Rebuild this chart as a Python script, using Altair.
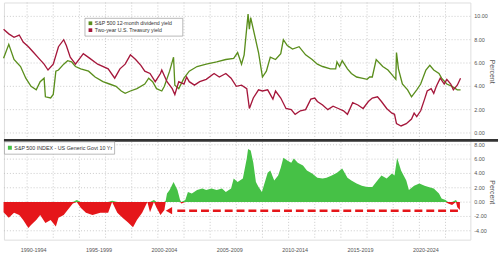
import altair as alt
import pandas as pd

# ---------------- data ----------------
div_years = [1990.2, 1990.6, 1991.0, 1991.5, 1991.9, 1992.3, 1992.7, 1993.0, 1993.3, 1993.4,
             1993.8, 1994.0, 1994.2, 1994.4, 1994.8, 1995.1, 1995.4, 1995.7, 1996.1, 1996.7,
             1997.2, 1997.8, 1998.3, 1998.8, 1999.2, 1999.5, 1999.9, 2000.4, 2001.0, 2001.3,
             2001.6, 2001.9, 2002.3, 2002.5, 2002.9, 2003.2, 2003.3, 2003.6, 2004.0, 2004.4,
             2005.0, 2005.7, 2006.5, 2007.2, 2007.8, 2008.1, 2008.4, 2008.6, 2008.9, 2009.0,
             2009.1, 2009.4, 2009.7, 2009.9, 2010.0, 2010.3, 2010.6, 2011.0, 2011.4, 2011.6,
             2011.9, 2012.3, 2012.8, 2013.3, 2013.8, 2014.2, 2014.6, 2015.2, 2015.6, 2015.7,
             2015.9, 2016.1, 2016.5, 2016.8, 2017.2, 2017.6, 2018.0, 2018.2, 2018.4, 2018.7,
             2019.2, 2019.6, 2019.9, 2020.2, 2020.25, 2020.4, 2020.7, 2021.1, 2021.4, 2021.8,
             2022.1, 2022.5, 2022.8, 2023.1, 2023.5, 2023.7, 2024.1, 2024.5, 2024.9, 2025.15]
div_yield = [6.4, 7.6, 6.3, 5.7, 4.7, 4.0, 3.7, 4.4, 4.7, 3.1,
             3.0, 3.3, 5.3, 5.4, 5.9, 6.2, 6.1, 5.7, 5.5, 5.3,
             4.8, 4.4, 4.2, 4.0, 3.6, 3.4, 3.6, 3.8, 4.2, 4.7,
             4.4, 3.8, 3.6, 4.0, 5.3, 6.5, 4.1, 3.8, 4.7, 5.3,
             5.7, 5.9, 6.1, 6.3, 6.4, 6.9, 5.9, 6.7, 10.2, 8.9,
             9.9, 8.4, 6.9, 5.5, 4.8, 5.3, 6.5, 6.3, 6.8, 8.0,
             7.5, 7.2, 7.4, 6.7, 6.3, 5.9, 5.7, 5.5, 5.5, 6.1,
             5.7, 6.2, 5.5, 5.1, 4.8, 4.7, 4.6, 4.8, 4.8, 6.3,
             5.7, 5.4, 5.0, 4.6, 6.9, 5.5, 4.2, 3.7, 3.1, 3.7,
             4.2, 5.4, 5.8, 5.4, 5.1, 4.7, 4.2, 4.0, 3.7, 3.7]

t2_years = [1990.2, 1990.6, 1991.0, 1991.4, 1991.7, 1992.1, 1992.5, 1992.9, 1993.3, 1993.6,
            1994.0, 1994.4, 1994.8, 1995.0, 1995.3, 1995.7, 1996.1, 1996.3, 1996.8, 1997.4,
            1998.2, 1998.7, 1999.1, 1999.5, 1999.9, 2000.3, 2000.7, 2001.0, 2001.4, 2001.8,
            2002.2, 2002.3, 2002.7, 2003.1, 2003.3, 2003.6, 2004.0, 2004.2, 2004.4, 2004.8,
            2005.2, 2005.7, 2006.3, 2006.7, 2007.2, 2007.6, 2008.0, 2008.4, 2008.8, 2009.0,
            2009.3, 2009.7, 2010.0, 2010.4, 2010.8, 2011.0, 2011.4, 2011.8, 2012.2, 2012.5,
            2012.9, 2013.3, 2013.7, 2014.0, 2014.2, 2014.6, 2015.0, 2015.4, 2015.8, 2016.2,
            2016.5, 2016.9, 2017.3, 2017.7, 2018.1, 2018.4, 2018.8, 2019.1, 2019.5, 2019.9,
            2020.1, 2020.25, 2020.6, 2021.0, 2021.4, 2021.6, 2021.8, 2022.1, 2022.4, 2022.6,
            2022.9, 2023.1, 2023.3, 2023.6, 2023.9, 2024.1, 2024.4, 2024.6, 2024.9, 2025.15]
t2_yield = [8.9, 8.5, 8.2, 8.4, 7.8, 7.4, 6.9, 6.4, 5.9, 5.4,
            5.9, 7.4, 8.0, 7.5, 6.5, 5.9, 6.5, 6.8, 6.4, 5.9,
            5.5, 4.7, 5.5, 5.9, 6.7, 6.3, 5.8, 5.3, 5.1, 4.4,
            5.1, 5.4, 4.4, 3.8, 3.3, 4.4, 4.2, 4.8, 4.4, 4.1,
            4.4, 4.6, 5.1, 4.8, 5.1, 4.7, 4.0, 4.1, 3.8, 2.1,
            3.0, 3.7, 3.6, 3.7, 2.9, 3.6, 3.0, 2.1, 2.0, 1.6,
            1.9, 2.0, 2.9, 3.0, 2.7, 2.4, 2.0, 2.3, 2.1, 1.9,
            1.6, 2.6, 2.4, 2.1, 2.7, 3.0, 3.1, 2.7, 2.1, 1.7,
            1.6, 0.8, 0.6, 0.8, 1.2, 1.7, 1.4, 1.9, 2.9, 3.6,
            3.8, 3.4, 4.0, 4.7, 4.2, 4.6, 4.2, 3.7, 4.1, 4.7]

spread_years = [1990.2, 1990.6, 1991.0, 1991.4, 1991.7, 1992.1, 1992.3, 1992.7, 1993.0, 1993.4,
                1993.8, 1994.2, 1994.4, 1994.8, 1995.1, 1995.5, 1995.8, 1996.1, 1996.5, 1997.0,
                1997.6, 1998.2, 1998.5, 1998.9, 1999.3, 1999.7, 2000.1, 2000.4, 2000.8, 2001.2,
                2001.4, 2001.7, 2001.9, 2002.2, 2002.5, 2002.6, 2002.7, 2002.9, 2003.2, 2003.5,
                2003.7, 2003.8, 2004.1, 2004.3, 2004.6, 2005.0, 2005.4, 2005.7, 2006.1, 2006.5,
                2006.9, 2007.2, 2007.6, 2007.8, 2008.1, 2008.5, 2008.8, 2008.9, 2009.1, 2009.3,
                2009.5, 2009.7, 2009.96, 2010.1, 2010.4, 2010.6, 2010.9, 2011.2, 2011.4, 2011.6,
                2011.9, 2012.2, 2012.4, 2012.7, 2013.1, 2013.4, 2013.8, 2014.2, 2014.6, 2014.9,
                2015.3, 2015.7, 2016.1, 2016.5, 2016.8, 2017.2, 2017.6, 2018.0, 2018.4, 2018.7,
                2019.1, 2019.5, 2019.9, 2020.1, 2020.3, 2020.6, 2021.0, 2021.2, 2021.6, 2022.0,
                2022.4, 2022.7, 2023.1, 2023.5, 2023.7, 2024.0, 2024.2, 2024.5, 2024.8, 2024.9,
                2025.1]
spread = [-1.4, -2.2, -1.5, -1.8, -2.5, -3.6, -3.2, -2.5, -1.8, -2.9,
          -2.5, -3.4, -2.2, -1.8, -1.1, -0.2, 0.3, -0.8, -1.5, -1.8,
          -1.5, -1.5, 0.2, -1.5, -2.2, -2.8, -3.5, -2.5, -1.5, 0.0,
          -1.4, 0.3, -0.8, -1.8, -1.1, 0.2, 1.2, 1.7, 2.8, 1.7,
          0.3, -0.2, 0.3, 1.4, 1.2, 1.7, 1.9, 1.7, 1.9, 1.7,
          1.9, 1.4, 1.9, 3.3, 2.8, 3.3, 6.1, 7.4, 7.2, 5.5,
          2.8, 2.1, 1.4, 2.3, 4.1, 4.4, 3.0, 3.7, 4.8, 6.2,
          5.8, 5.5, 6.1, 5.5, 5.1, 4.4, 4.0, 3.4, 3.3, 3.4,
          3.7, 4.1, 4.7, 3.4, 3.0, 2.6, 2.3, 2.1, 2.1, 2.8,
          3.7, 3.3, 4.0, 3.7, 6.2, 4.4, 3.0, 1.7, 2.3, 2.6,
          2.3, 2.1, 1.9, 1.2, 0.5, 0.3, -0.2, -0.4, 0.3, -0.7,
          -1.1]

div_label = "S&P 500 12-month dividend yield"
t2_label = "Two-year U.S. Treasury yield"
spread_label = "S&P 500 INDEX - US Generic Govt 10 Yr"
axis_title = "Percent"

top_ticks = [0, 2, 4, 6, 8, 10]
bot_ticks = [-4, -2, 0, 2, 4, 6, 8]
grid_years = [1992, 1994, 1996, 1998, 2000, 2002, 2004, 2006, 2008, 2010, 2012, 2014,
              2016, 2018, 2020, 2022, 2024]
tick_years = [1995, 2000, 2005, 2010, 2015, 2020, 2025]
period_labels = ["1990-1994", "1995-1999", "2000-2004", "2005-2009", "2010-2014",
                 "2015-2019", "2020-2024"]
period_centers = [1992.5, 1997.5, 2002.5, 2007.5, 2012.5, 2017.5, 2022.5]

arrow_from = 2024.95
arrow_to = 2003.2
arrow_head = 2002.85
arrow_level = -1.2

# ---------------- styling ----------------
FONT = "Liberation Sans"
GREEN_LINE = "#5a8e1c"
RED_LINE = "#a5173b"
GREEN_AREA = "#46c146"
RED_AREA = "#e5161a"
GRID = "#bdbdbd"
TXT = "#555555"
W = 472
H = 240          # whole plot area (both panels)
SEP_Y = 139.5    # separator between the two panels

xs = alt.Scale(domain=[1990.23, 2025.9], nice=False, zero=False)
# top panel occupies the upper part of the shared plot area, bottom panel the lower part
ys_top = alt.Scale(domain=[-9.15, 11.19], nice=False, zero=False)
ys_bot = alt.Scale(domain=[-5.24, 27.86], nice=False, zero=False)

one = pd.DataFrame({"k": [0]})
X_NOAXIS = dict(scale=xs, axis=None)

# ---------------- shared vertical grid + bottom x axis ----------------
grid_df = pd.DataFrame({"year": grid_years})
vgrid = alt.Chart(grid_df).mark_rule(strokeDash=[1, 2], color=GRID, strokeWidth=0.8).encode(
    x=alt.X("year:Q", scale=xs,
            axis=alt.Axis(values=tick_years, labels=False, tickSize=14, tickColor="#9a9a9a",
                          tickWidth=0.8, domainColor="#9a9a9a", domainWidth=0.8,
                          grid=False, title=None)),
    y=alt.value(0), y2=alt.value(H))

# ---------------- top panel ----------------
top_tick_df = pd.DataFrame({"v": top_ticks, "lab": [f"{t:.2f}" for t in top_ticks]})
top_hgrid = alt.Chart(top_tick_df).mark_rule(strokeDash=[1, 2], color=GRID, strokeWidth=0.8).encode(
    y=alt.Y("v:Q", scale=ys_top, axis=None), x=alt.value(0), x2=alt.value(W))
top_labels = alt.Chart(top_tick_df).mark_text(fontSize=5.5, color=TXT, align="left",
                                              baseline="middle", font=FONT).encode(
    y=alt.Y("v:Q", scale=ys_top, axis=None), x=alt.value(W + 4), text="lab:N")

lines_df = pd.concat([
    pd.DataFrame({"year": div_years, "value": div_yield, "series": div_label}),
    pd.DataFrame({"year": t2_years, "value": t2_yield, "series": t2_label}),
])
top_lines = alt.Chart(lines_df).mark_line(strokeWidth=1.35).encode(
    x=alt.X("year:Q", **X_NOAXIS),
    y=alt.Y("value:Q", scale=ys_top, axis=None),
    color=alt.Color("series:N", scale=alt.Scale(domain=[div_label, t2_label],
                                                range=[GREEN_LINE, RED_LINE]), legend=None),
)

top_box = alt.Chart(one).mark_rect(fill="white", stroke="#9a9a9a", strokeWidth=0.7).encode(
    x=alt.value(82), x2=alt.value(181), y=alt.value(16), y2=alt.value(34))
top_sq1 = alt.Chart(one).mark_point(shape="square", filled=True, size=14, opacity=1,
                                    color=GREEN_LINE).encode(x=alt.value(87.5), y=alt.value(21))
top_sq2 = alt.Chart(one).mark_point(shape="square", filled=True, size=14, opacity=1,
                                    color=RED_LINE).encode(x=alt.value(87.5), y=alt.value(28))
top_t1 = alt.Chart(one).mark_text(text=div_label, fontSize=5.3, color="#333", align="left",
                                  baseline="middle", font=FONT).encode(
    x=alt.value(92), y=alt.value(21))
top_t2 = alt.Chart(one).mark_text(text=t2_label, fontSize=5.3, color="#333", align="left",
                                  baseline="middle", font=FONT).encode(
    x=alt.value(92), y=alt.value(28))
top_title = alt.Chart(one).mark_text(text=axis_title, fontSize=7, color=TXT, angle=90,
                                     align="center", baseline="middle", font=FONT).encode(
    x=alt.value(W + 22), y=alt.value(70))

# ---------------- bottom panel ----------------
bot_tick_df = pd.DataFrame({"v": bot_ticks, "lab": [f"{t:.2f}" for t in bot_ticks]})
bot_hgrid = alt.Chart(bot_tick_df).mark_rule(strokeDash=[1, 2], color=GRID, strokeWidth=0.8).encode(
    y=alt.Y("v:Q", scale=ys_bot, axis=None), x=alt.value(0), x2=alt.value(W))
bot_labels = alt.Chart(bot_tick_df).mark_text(fontSize=5.5, color=TXT, align="left",
                                              baseline="middle", font=FONT).encode(
    y=alt.Y("v:Q", scale=ys_bot, axis=None), x=alt.value(W + 4), text="lab:N")

spread_df = pd.DataFrame({"year": spread_years, "spread": spread})
pos_area = alt.Chart(spread_df).transform_calculate(
    pos="max(datum.spread, 0)").mark_area(color=GREEN_AREA, opacity=1).encode(
    x=alt.X("year:Q", **X_NOAXIS),
    y=alt.Y("pos:Q", scale=ys_bot, axis=None),
    y2=alt.datum(0),
)
neg_area = alt.Chart(spread_df).transform_calculate(
    neg="min(datum.spread, 0)").mark_area(color=RED_AREA, opacity=1).encode(
    x=alt.X("year:Q", **X_NOAXIS),
    y=alt.Y("neg:Q", scale=ys_bot, axis=None),
    y2=alt.datum(0),
)

arrow_df = pd.DataFrame({"year": [arrow_from], "year2": [arrow_to], "level": [arrow_level]})
arrow_line = alt.Chart(arrow_df).mark_rule(color=RED_AREA, strokeWidth=2.4,
                                           strokeDash=[8, 4]).encode(
    x=alt.X("year:Q", **X_NOAXIS), x2="year2:Q",
    y=alt.Y("level:Q", scale=ys_bot, axis=None))
head_df = pd.DataFrame({"year": [arrow_head], "level": [arrow_level]})
arrow_tip = alt.Chart(head_df).mark_point(shape="triangle-left", filled=True, size=55,
                                          opacity=1, color=RED_AREA).encode(
    x=alt.X("year:Q", **X_NOAXIS),
    y=alt.Y("level:Q", scale=ys_bot, axis=None))

sep = alt.Chart(one).mark_rule(color="#333333", strokeWidth=2.6).encode(
    x=alt.value(0), x2=alt.value(500), y=alt.value(SEP_Y))

bot_box = alt.Chart(one).mark_rect(fill="white", stroke="#9a9a9a", strokeWidth=0.7).encode(
    x=alt.value(0.5), x2=alt.value(112), y=alt.value(SEP_Y + 1.5), y2=alt.value(SEP_Y + 14))
bot_sq = alt.Chart(one).mark_point(shape="square", filled=True, size=16, opacity=1,
                                   color=GREEN_AREA).encode(x=alt.value(6), y=alt.value(SEP_Y + 7.5))
bot_t = alt.Chart(one).mark_text(text=spread_label, fontSize=5.4, color="#333", align="left",
                                 baseline="middle", font=FONT).encode(
    x=alt.value(10.5), y=alt.value(SEP_Y + 7.5))
bot_title = alt.Chart(one).mark_text(text=axis_title, fontSize=7, color=TXT, angle=90,
                                     align="center", baseline="middle", font=FONT).encode(
    x=alt.value(W + 22), y=alt.value(192))

period_df = pd.DataFrame({"year": period_centers, "label": period_labels})
period_txt = alt.Chart(period_df).mark_text(fontSize=5.5, color=TXT, align="center",
                                            baseline="middle", font=FONT).encode(
    x=alt.X("year:Q", **X_NOAXIS), text="label:N", y=alt.value(H + 10))

chart = alt.layer(
    vgrid, top_hgrid, top_labels, top_lines, top_box, top_sq1, top_sq2, top_t1, top_t2,
    top_title, bot_hgrid, bot_labels, pos_area, neg_area, arrow_line, arrow_tip, sep,
    bot_box, bot_sq, bot_t, bot_title, period_txt,
).resolve_scale(y="independent").properties(
    width=W, height=H, padding=0, background="white"
).configure_view(strokeWidth=0).configure(font=FONT)

chart.save("out.html", embed_options={"renderer": "svg", "actions": False})
